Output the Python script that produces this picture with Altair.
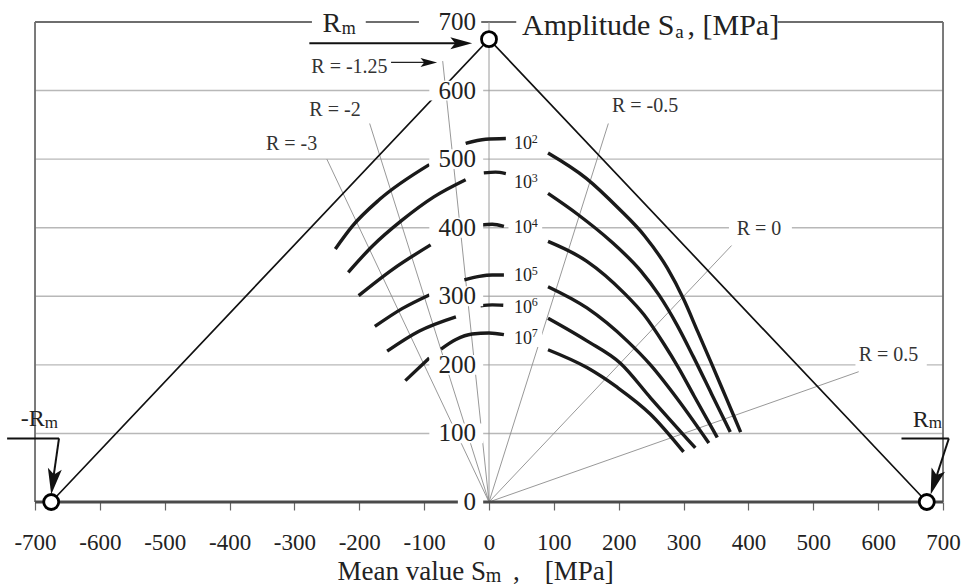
import altair as alt
import pandas as pd

FONT = "Liberation Serif"

# ---------------- data ----------------
X_TICKS = list(range(-700, 701, 100))
Y_LABELS = [0, 100, 200, 300, 400, 500, 600, 700]
GRID_Y = [100, 200, 300, 400, 500, 600]
RM = 675  # tensile strength, MPa

# radial lines of constant stress ratio R: end points (Sm, Sa)
R_NAMES = ["R = -3", "R = -2", "R = -1.25", "R = -0.5", "R = 0", "R = 0.5"]
R_END_SM = [-250, -184, -71.4, 184, 374, 570]
R_END_SA = [500, 552, 643, 552, 374, 190]
R_LABEL_SM = [-344, -277, -274, 189.5, 382, 570]
R_LABEL_SA = [522, 571.5, 634.6, 577, 398.4, 214]

# constant-life curves N = 10^2 ... 10^7, (Sm, Sa) points of the three visible pieces
EXPONENTS = ["2", "3", "4", "5", "6", "7"]
LEFT = {
    "2": [(-237, 369), (-211, 402), (-169, 441), (-92, 492)],
    "3": [(-217, 335), (-180, 373), (-134, 411), (-85, 445), (-36, 470)],
    "4": [(-201, 301), (-149, 339), (-90, 375)],
    "5": [(-176, 256), (-134, 282), (-92, 302)],
    "6": [(-157, 220), (-108, 249), (-51, 270)],
    "7": [(-129, 177), (-92, 210)],
}
CENTER = {
    "2": [(-36, 523), (-5, 529), (26, 530)],
    "3": [(-8, 480), (10, 481), (26, 479)],
    "4": [(-13, 404), (5, 405), (23, 402)],
    "5": [(-38, 324), (-15, 329), (5, 331), (23, 331)],
    "6": [(-13, 286), (5, 287.5), (22, 287)],
    "7": [(-74, 223), (-51, 237), (-26, 245), (0, 246.5), (23, 244)],
}
RIGHT = {
    "2": [(91, 509), (150, 472), (200, 428), (240, 388), (275, 341), (300, 296),
          (322, 248), (344, 200), (366, 151), (388, 102)],
    "3": [(91, 450), (136, 420), (187, 381), (234, 337), (262, 302), (290, 258),
          (315, 212), (343, 158), (372, 102)],
    "4": [(91, 380), (151, 351), (208, 305), (239, 273), (270, 230), (292, 196),
          (316, 155), (352, 94)],
    "5": [(91, 314), (151, 283), (213, 235), (249, 200), (290, 151), (339, 86)],
    "6": [(91, 268), (151, 235), (203, 202), (249, 152), (318, 79)],
    "7": [(91, 222), (151, 196), (198, 167), (249, 128), (300, 73)],
}
N_LABEL_SA = [522, 465, 399, 329, 283, 238]

# ---------------- scales / helpers ----------------
XS = alt.Scale(domain=[-700, 700], nice=False, zero=False)
YS = alt.Scale(domain=[0, 700], nice=False, zero=False)
XAXIS = alt.Axis(values=X_TICKS, labelExpr="'' + datum.value", labelFont=FONT,
                 labelFontSize=23, labelColor="#222222", tickColor="#666666",
                 tickSize=8, tickWidth=1.2, domain=False, grid=False, title=None,
                 labelPadding=21, labelOverlap=False, labelFlush=False)


def X(f="x"):
    return alt.X(f, type="quantitative", scale=XS, axis=XAXIS)


def Y(f="y"):
    return alt.Y(f, type="quantitative", scale=YS, axis=None)


def segs(rows, color, width):
    df = pd.DataFrame(rows, columns=["x", "y", "x2", "y2"])
    return alt.Chart(df).mark_rule(color=color, strokeWidth=width).encode(
        x=X("x"), y=Y("y"), x2=alt.X2("x2"), y2=alt.Y2("y2"))


def texts(rows, align, baseline):
    df = pd.DataFrame(rows, columns=["x", "y", "t", "fs", "c"])
    return alt.Chart(df).mark_text(font=FONT, align=align, baseline=baseline).encode(
        x=X("x"), y=Y("y"), text="t:N",
        size=alt.Size("fs:Q", scale=None), color=alt.Color("c:N", scale=None))


layers = []

# gridlines
layers.append(segs([(-700, v, 700, v) for v in GRID_Y], "#b8b8b8", 1.4))
# frame
layers.append(segs([(-700, 700, 700, 700), (-700, 0, -700, 700), (700, 0, 700, 700)],
                   "#6e6e6e", 1.8))
# vertical axis at Sm = 0
layers.append(segs([(0, 0, 0, 700)], "#9a9a9a", 1.0))
# radial R lines
layers.append(segs([(0, 0, a, b) for a, b in zip(R_END_SM, R_END_SA)], "#8c8c8c", 0.9))
# base line
layers.append(segs([(-700, 0, 700, 0)], "#4a4a4a", 3.0))

# triangle (limit lines)
tri = pd.DataFrame({"x": [-RM, 0, RM], "y": [0, RM, 0], "i": [0, 1, 2]})
layers.append(alt.Chart(tri).mark_line(color="#111111", strokeWidth=1.7).encode(
    x=X("x"), y=Y("y"), order="i:Q"))

# constant-life curves
rows = []
for e in EXPONENTS:
    for part, dct in (("L", LEFT), ("C", CENTER), ("R", RIGHT)):
        for i, (a, b) in enumerate(dct[e]):
            rows.append({"x": a, "y": b, "seg": e + part, "i": i})
curves = pd.DataFrame(rows)
layers.append(alt.Chart(curves).mark_line(color="#1a1a1a", strokeWidth=3.4,
                                          interpolate="monotone").encode(
    x=X("x"), y=Y("y"), detail="seg:N", order="i:Q"))

# white label backgrounds
boxes = []
for v in Y_LABELS[1:-1]:
    boxes.append((-92, v - 14.5, -9, v + 14.5))
boxes.append((-48, -14.5, -9, 14.5))            # "0"
boxes.append((-273, 685.5, -190, 714.5))        # top "Rm"
boxes.append((-108, 685.5, -12, 714.5))         # "700"
boxes.append((42, 685.5, 445, 714.5))           # "Amplitude ..."
boxes.append((370, 386, 467, 414))              # "R = 0"
boxes.append((565, 196, 675, 230))              # "R = 0.5"
for s in N_LABEL_SA:
    boxes.append((30, s - 12, 82, s + 12))      # "10^n"
bdf = pd.DataFrame(boxes, columns=["x", "y", "x2", "y2"])
layers.append(alt.Chart(bdf).mark_rect(color="white", opacity=1).encode(
    x=X("x"), y=Y("y"), x2=alt.X2("x2"), y2=alt.Y2("y2")))

# circles at Rm
circ = pd.DataFrame({"x": [-RM, 0, RM], "y": [0, RM, 0]})
layers.append(alt.Chart(circ).mark_point(shape="circle", fill="white", fillOpacity=1,
                                         stroke="black", strokeWidth=2.8, size=225,
                                         opacity=1).encode(x=X("x"), y=Y("y")))

# arrows
layers.append(segs([(-277, 669, -40, 669), (-743, 92.7, -663, 92.7),
                    (-663, 92.7, -674, 20), (636, 92.7, 709, 92.7),
                    (709, 92.7, 684, 20)], "#111111", 2.0))
layers.append(segs([(-151, 641, -88, 641)], "#222222", 1.3))
ARROW = "M0,0L-1,-0.27L-0.78,0L-1,0.27Z"
heads = pd.DataFrame({"x": [-26, -80, -675, 681], "y": [669, 641, 11, 11],
                      "ang": [0, 0, 98, 107], "sz": [1900, 1100, 2700, 2700]})
layers.append(alt.Chart(heads).mark_point(shape=ARROW, filled=True, color="#111111",
                                          opacity=1).encode(
    x=X("x"), y=Y("y"), angle=alt.Angle("ang:Q", scale=None),
    size=alt.Size("sz:Q", scale=None)))

# texts
DARK = "#222222"
right_mid = [(-20, v, str(v), 25, DARK) for v in Y_LABELS]
layers.append(texts(right_mid, "right", "middle"))

left_mid = [(a, b, t, 20, "#333333") for a, b, t in zip(R_LABEL_SM, R_LABEL_SA, R_NAMES)]
for e, s in zip(EXPONENTS, N_LABEL_SA):
    left_mid.append((38.5, s, "10", 18, DARK))
    left_mid.append((66, s + 8, e, 12, DARK))
layers.append(texts(left_mid, "left", "middle"))

right_alpha = [
    (-685, 110.5, "-R", 24, DARK),
    (678, 110, "R", 24, DARK),
    (-228, 685, "R", 28, DARK),
    (286, 681, "Amplitude S", 30, DARK),
    (-4.6, -114, "Mean value S", 27, DARK),
]
layers.append(texts(right_alpha, "right", "alphabetic"))

left_alpha = [
    (-685, 108, "m", 17, DARK),
    (678, 107.5, "m", 17, DARK),
    (-227, 683, "m", 18, DARK),
    (287, 677, "a", 19, DARK),
    (306, 681, ", [MPa]", 30, DARK),
    (-5, -117, "m", 20, DARK),
    (37, -114, ",", 27, DARK),
    (86, -114, "[MPa]", 27, DARK),
]
layers.append(texts(left_alpha, "left", "alphabetic"))

chart = alt.layer(*layers).properties(
    width=908, height=480,
    padding={"left": 35, "top": 22, "right": 20, "bottom": 85},
    autosize=alt.AutoSizeParams(type="none"),
).configure_view(strokeWidth=0).configure(background="white")

chart.save("out.html", embed_options={"renderer": "svg", "actions": False})
